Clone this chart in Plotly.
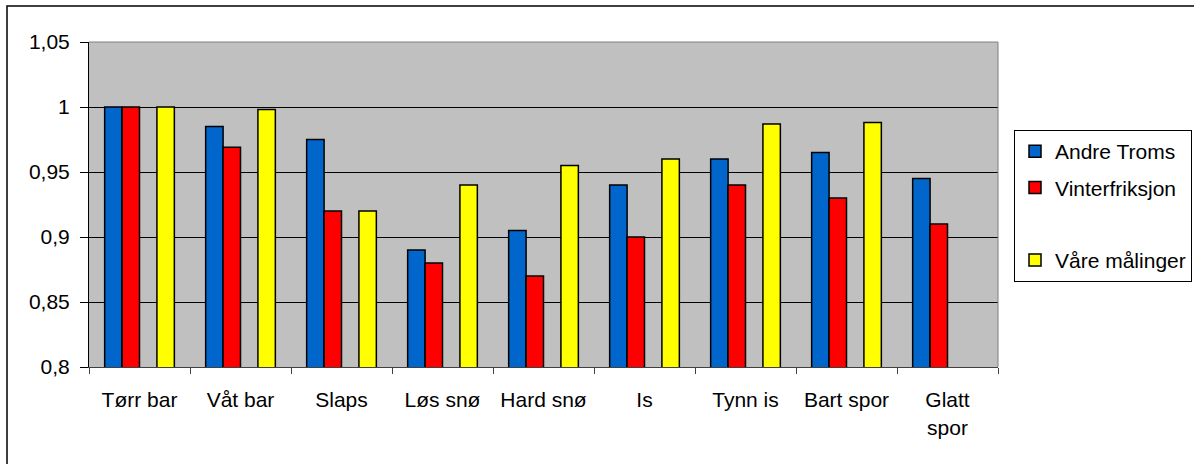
import plotly.graph_objects as go

# Friksjonsfaktor per føreforhold
categories = ["Tørr bar", "Våt bar", "Slaps", "Løs snø", "Hard snø", "Is",
              "Tynn is", "Bart spor", "Glatt<br>spor"]
andre_troms = [1.0, 0.985, 0.975, 0.89, 0.905, 0.94, 0.96, 0.965, 0.945]
vinterfriksjon = [1.0, 0.969, 0.92, 0.88, 0.87, 0.90, 0.94, 0.93, 0.91]
tom_serie = [None] * 9
vaare_maalinger = [1.0, 0.998, 0.92, 0.94, 0.955, 0.96, 0.987, 0.988, None]

y_ticks = [0.8, 0.85, 0.9, 0.95, 1.0, 1.05]
y_tick_text = ["0,8", "0,85", "0,9", "0,95", "1", "1,05"]

FONT = "Liberation Sans, Arial, sans-serif"
FS = 21

series = [
    ("Andre Troms", andre_troms, "#0066CC"),
    ("Vinterfriksjon", vinterfriksjon, "#FF0000"),
    (" ", tom_serie, "rgba(0,0,0,0)"),
    ("Våre målinger", vaare_maalinger, "#FFFF00"),
]

fig = go.Figure()
for i, (name, vals, color) in enumerate(series):
    edge = "black" if color != "rgba(0,0,0,0)" else "rgba(0,0,0,0)"
    fig.add_trace(go.Bar(
        x=categories, y=vals, name=name,
        legendgroup=f"g{i}",
        marker=dict(color=color, line=dict(color=edge, width=1.5)),
        hoverinfo="x+y+name",
    ))

# plot area: x 89..998, y 42..367 in a 1194x464 figure
L, R, T, B = 89, 998, 42, 367
W, H = 1194, 464
pw, ph = R - L, B - T

def px(x):
    return (x - L) / pw

def py(y):
    return (B - y) / ph

fig.update_layout(
    width=W, height=H,
    margin=dict(l=L, r=W - R, t=T, b=H - B, pad=0, autoexpand=False),
    paper_bgcolor="white",
    plot_bgcolor="#C0C0C0",
    barmode="group",
    bargap=0.31,
    bargroupgap=0,
    font=dict(family=FONT, size=FS, color="black"),
    separators=", ",
    legend=dict(
        x=px(1014), y=py(130), xanchor="left", yanchor="top",
        bordercolor="black", borderwidth=1, bgcolor="white",
        font=dict(family=FONT, size=FS),
        tracegroupgap=6,
        traceorder="grouped",
    ),
    showlegend=True,
)

fig.update_xaxes(
    showline=True, linecolor="#404040", linewidth=1,
    ticks="outside", tickson="boundaries", ticklen=6, tickcolor="#404040",
    showgrid=False, ticklabelstandoff=14,
    tickfont=dict(family=FONT, size=FS),
)
fig.update_yaxes(
    range=[0.8, 1.05],
    tickvals=y_ticks, ticktext=y_tick_text,
    showline=True, linecolor="black", linewidth=1,
    ticks="outside", ticklen=8, tickcolor="black",
    showgrid=True, gridcolor="black", gridwidth=1,
    zeroline=False, ticklabelstandoff=6,
    tickfont=dict(family=FONT, size=FS),
)

# plot-area edges on top and right, and the outer chart frame
fig.add_shape(type="line", xref="paper", yref="paper", x0=0, x1=1, y0=1, y1=1,
              line=dict(color="#808080", width=1), layer="above")
fig.add_shape(type="line", xref="paper", yref="paper", x0=1, x1=1, y0=0, y1=1,
              line=dict(color="#808080", width=1), layer="above")
fig.add_shape(type="rect", xref="paper", yref="paper",
              x0=px(7), x1=px(1210), y0=py(480), y1=py(6),
              line=dict(color="black", width=1.5), fillcolor="rgba(0,0,0,0)",
              layer="below")

fig.write_html("out.html")
